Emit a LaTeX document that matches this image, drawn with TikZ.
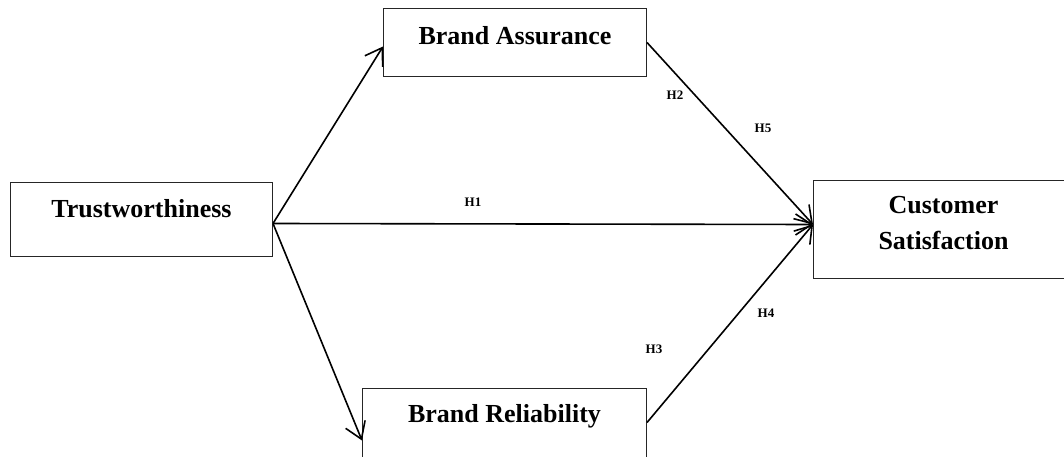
\documentclass[tikz,border=0pt]{standalone}
\usepackage{fontspec}
\setmainfont{Liberation Serif}
\usepackage{tikz}
\usetikzlibrary{arrows.meta,positioning,calc}

\begin{document}
\begin{tikzpicture}[x=1pt,y=-1pt,
  box/.style={draw=black!85,line width=1pt,inner sep=0pt,anchor=north west,align=center,font=\fontsize{26}{36}\selectfont\bfseries},
  hlab/.style={font=\fontsize{13}{15}\selectfont\bfseries},
  path/.style={line width=1.6pt,-{Straight Barb[length=16pt,width=21pt,line width=1.6pt]}}]
  \clip (0,0) rectangle (1064,457);
  % constructs
  \node[box,minimum width=262pt,text height=35pt,text depth=39pt] (tw) at (10,182) {Trustworthiness};
  \node[box,minimum width=263pt,text height=36pt,text depth=32pt] (ba) at (383,8) {Brand Assurance};
  \node[box,minimum width=284pt,text height=34pt,text depth=70pt] (br) at (362,388) {Brand Reliability};
  \node[box,minimum width=260pt,text height=69pt,text depth=29pt] (cs) at (813,180) {Customer\\Satisfaction};
  \coordinate (tout) at ([yshift=-4pt]tw.east);
  \coordinate (csin) at ([yshift=5pt]cs.west);
  % paths
  \draw[path] (tout) -- ([yshift=-4pt]ba.west);
  \draw[path] (tout) -- (br.west);
  \draw[path] (tout) -- (csin);
  \draw[path] (ba.east) -- (csin);
  \draw[path] ([yshift=18pt]br.east) -- (csin);
  % hypotheses
  \node[hlab] (h1) at (473,202) {H1};
  \node[hlab] (h2) at (675,95) {H2};
  \node[hlab] (h5) at (763,128) {H5};
  \node[hlab] (h3) at (654,349) {H3};
  \node[hlab] (h4) at (766,313) {H4};
\end{tikzpicture}
\end{document}
